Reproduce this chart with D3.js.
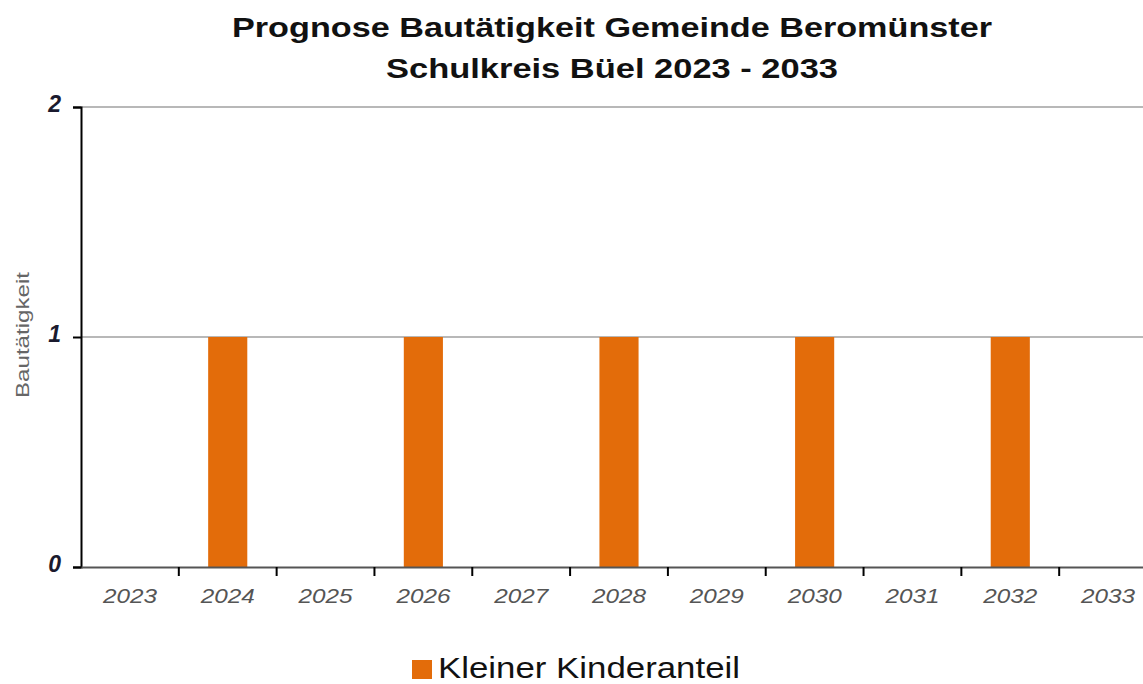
<!DOCTYPE html>
<html><head><meta charset="utf-8">
<script src="https://cdn.jsdelivr.net/npm/d3@7"></script>
<style>body{margin:0;background:#fff;overflow:hidden}svg{display:block}</style>
</head><body>
<svg id="c" width="1143" height="684"></svg>
<script>
const years = ["2023","2024","2025","2026","2027","2028","2029","2030","2031","2032","2033"];
const values = [0,1,0,1,0,1,0,1,0,1,0];
const yTicks = [0,1,2];
const titleLines = ["Prognose Bautätigkeit Gemeinde Beromünster","Schulkreis Büel 2023 - 2033"];
const seriesName = "Kleiner Kinderanteil";
const yLabel = "Bautätigkeit";

const svg = d3.select("#c");
const font = "'Liberation Sans', Arial, sans-serif";
const L = 81, R = 1157, T = 107, B = 567;
const x = d3.scaleBand().domain(years).range([L, R]).paddingInner(0).paddingOuter(0);
const y = d3.scaleLinear().domain([0,2]).range([B, T]);
const color = "#E36C0A";

// gridlines
svg.append("g").selectAll("line").data(yTicks.filter(d=>d>0)).join("line")
  .attr("x1", L).attr("x2", 1143).attr("y1", d=>y(d)).attr("y2", d=>y(d))
  .attr("stroke", "#a0a0a0").attr("stroke-width", 1.5);

// bars
const bw = x.bandwidth()*0.4;
svg.append("g").selectAll("rect").data(values.map((v,i)=>({y:years[i],v}))).join("rect")
  .attr("x", d=>x(d.y)+x.bandwidth()/2-bw/2).attr("width", bw)
  .attr("y", d=>y(d.v)).attr("height", d=>B-y(d.v)).attr("fill", color);

// y axis
const ya = svg.append("g").attr("transform",`translate(${L},0)`)
  .call(d3.axisLeft(y).tickValues(yTicks).tickSize(8).tickFormat(d3.format("d")));
ya.select(".domain").attr("stroke","#000").attr("stroke-width",2);
ya.selectAll(".tick line").attr("stroke","#000").attr("stroke-width",2);
ya.selectAll(".tick text").attr("font-family",font).attr("font-size",23).attr("font-style","italic")
  .attr("font-weight","bold").attr("fill","#1a1a2e").attr("x",-20).attr("dy","0.2em");

// x axis
const xa = svg.append("g").attr("transform",`translate(0,${B})`)
  .call(d3.axisBottom(x).tickSize(0).tickSizeOuter(0));
xa.select(".domain").attr("stroke","#555").attr("stroke-width",2);
xa.selectAll(".tick text").attr("font-family",font).attr("font-size",21).attr("font-style","italic")
  .attr("fill","#555").attr("dy",0).attr("y",36)
  .attr("textLength",54).attr("lengthAdjust","spacingAndGlyphs");
// boundary ticks
svg.append("g").selectAll("line").data(years.slice(1)).join("line")
  .attr("x1", d=>x(d)).attr("x2", d=>x(d)).attr("y1", B).attr("y2", B+9)
  .attr("stroke","#000").attr("stroke-width",2);

// title
const titleW = [760, 452];
svg.append("g").selectAll("text").data(titleLines).join("text")
  .attr("x", 612).attr("y",(d,i)=>37+i*41).attr("text-anchor","middle")
  .attr("font-family",font).attr("font-size",28).attr("font-weight","bold").attr("fill","#111")
  .attr("textLength",(d,i)=>titleW[i]).attr("lengthAdjust","spacingAndGlyphs")
  .text(d=>d);

// y label
svg.append("text").attr("transform","translate(29,335) rotate(-90)").attr("text-anchor","middle")
  .attr("font-family",font).attr("font-size",18).attr("fill","#666")
  .attr("textLength",126).attr("lengthAdjust","spacingAndGlyphs").text(yLabel);

// legend
svg.append("rect").attr("x",412).attr("y",660).attr("width",20).attr("height",19).attr("fill",color);
svg.append("text").attr("x",438).attr("y",678).attr("font-family",font).attr("font-size",30)
  .attr("fill","#111").attr("textLength",302).attr("lengthAdjust","spacingAndGlyphs").text(seriesName);
</script>
</body></html>
